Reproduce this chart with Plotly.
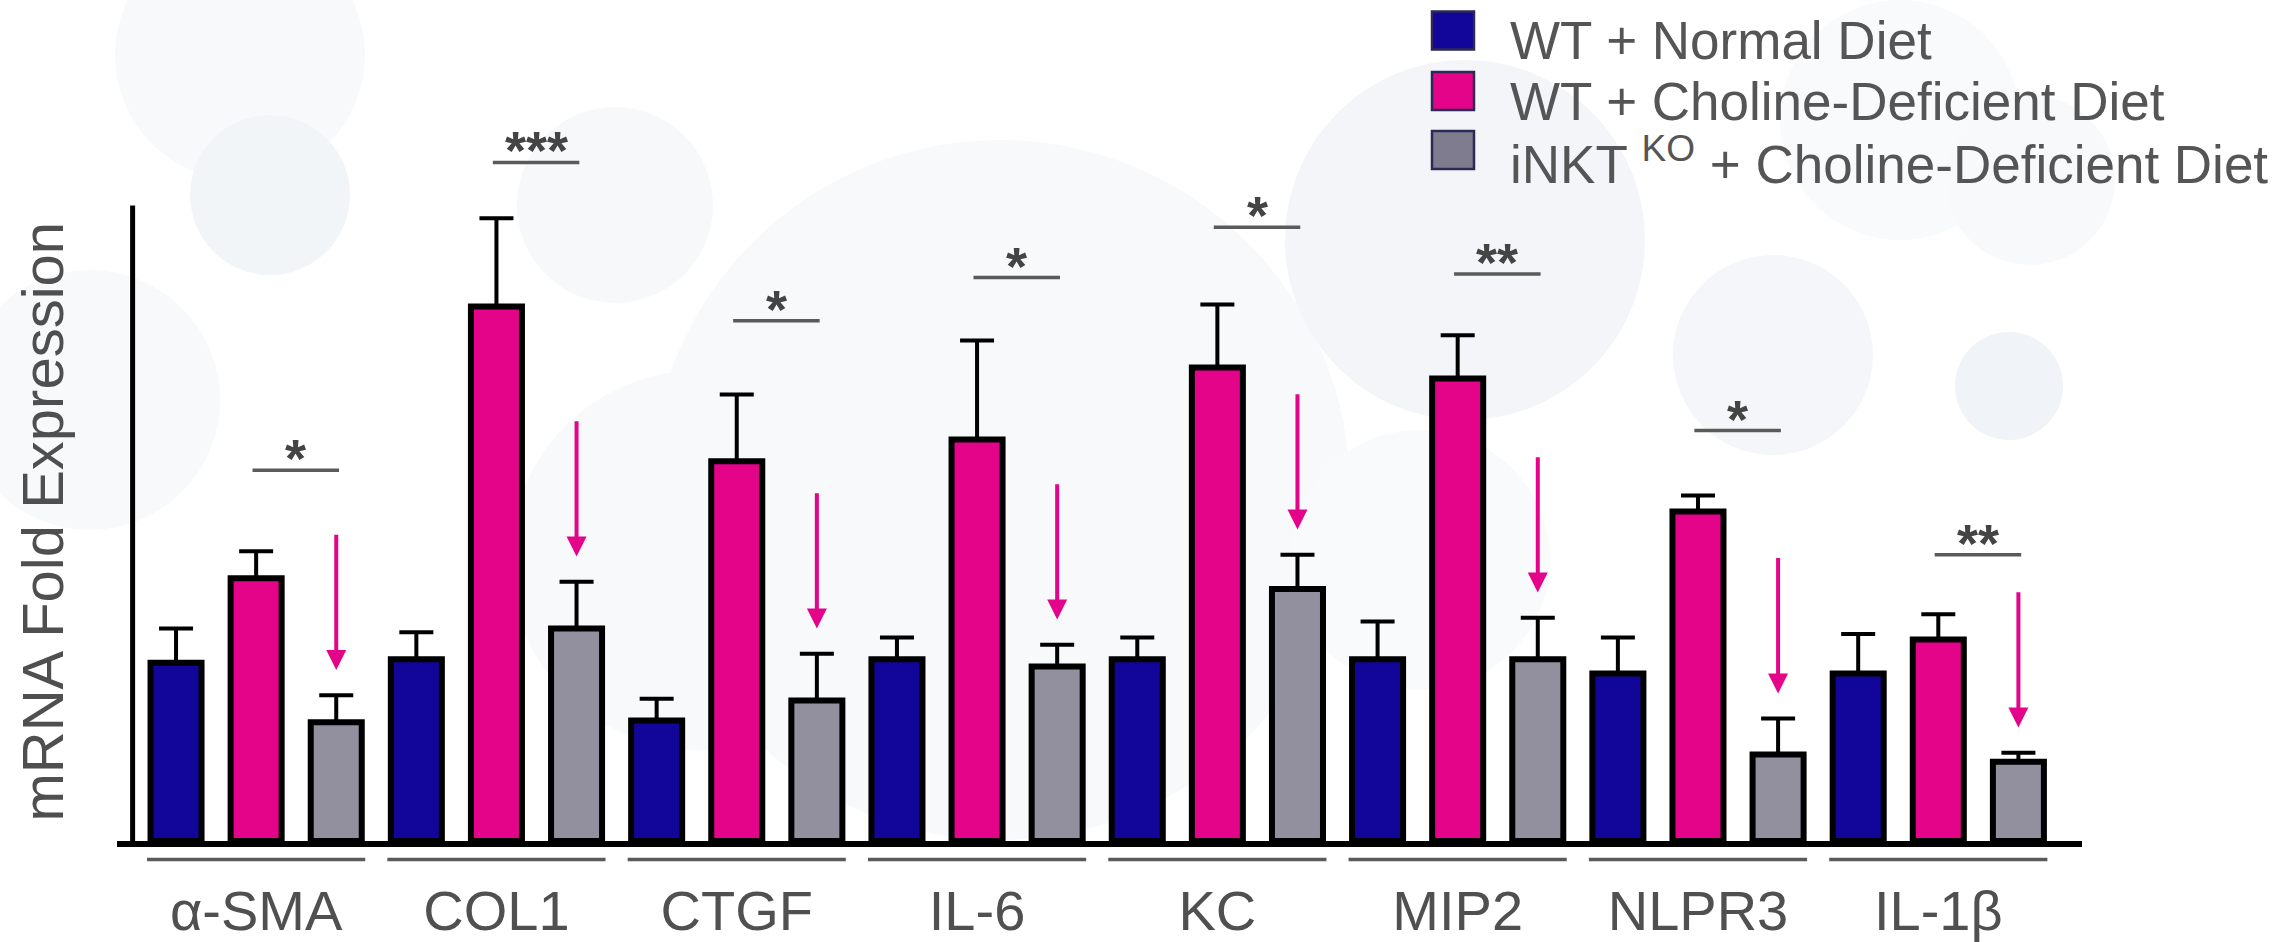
import plotly.graph_objects as go

# ---------------- data ----------------
genes = ["α-SMA", "COL1", "CTGF", "IL-6", "KC", "MIP2", "NLPR3", "IL-1β"]
series_names = ["WT + Normal Diet",
                "WT + Choline-Deficient Diet",
                "iNKT <sup>KO</sup> + Choline-Deficient Diet"]

wt_normal = [0.99, 1.01, 0.67, 1.01, 1.01, 1.01, 0.93, 0.93]
wt_normal_err = [0.19, 0.15, 0.12, 0.12, 0.12, 0.21, 0.20, 0.22]

wt_cdd = [1.46, 2.97, 2.11, 2.23, 2.63, 2.57, 1.83, 1.12]
wt_cdd_err = [0.15, 0.49, 0.37, 0.55, 0.35, 0.24, 0.09, 0.14]

ko_cdd = [0.66, 1.18, 0.78, 0.97, 1.40, 1.01, 0.48, 0.44]
ko_cdd_err = [0.15, 0.26, 0.26, 0.12, 0.19, 0.23, 0.20, 0.05]

significance = ["*", "***", "*", "*", "*", "**", "*", "**"]
sig_level = [2.06, 3.77, 2.89, 3.13, 3.41, 3.15, 2.28, 1.59]

# ---------------- styling ----------------
W, H = 2286, 942
ML, MR, MT, MB = 117, 204, 20, 101
PW, PH = W - ML - MR, H - MT - MB
UNIT = 180.0  # pixels per data unit
X_RANGE = [-0.579, 7.598]
Y_RANGE = [0, PH / UNIT]

C_BLUE = "#110699"
C_PINK = "#e4048a"
C_GRAY = "#928f9e"
C_LEG_GRAY = "#7e7c8e"
TXT = "#555555"
FONT = "Liberation Sans, Arial, sans-serif"


def px_x(px):
    return (px - ML) / PW


def px_y(py):
    return (H - MB - py) / PH


fig = go.Figure()

# faint background bubbles (decoration)
bubbles = [
    (240, 55, 125, "#f7f9fb"), (270, 195, 80, "#f2f5f8"), (90, 400, 130, "#f8f9fb"),
    (615, 205, 98, "#f6f8fa"), (1000, 490, 350, "#f8f9fb"), (1465, 240, 180, "#f3f5f9"),
    (1773, 355, 100, "#f4f6f9"), (2009, 386, 54, "#f0f3f7"), (1420, 560, 130, "#f8fafc"),
    (1900, 120, 120, "#f8fafc"), (700, 560, 190, "#f8f9fb"), (2030, 180, 85, "#f8f9fb"),
]
for cx, cy, r, col in bubbles:
    fig.add_shape(type="circle", xref="paper", yref="paper",
                  x0=px_x(cx - r), x1=px_x(cx + r), y0=px_y(cy + r), y1=px_y(cy - r),
                  fillcolor=col, line=dict(width=0), layer="below")

series = [(wt_normal, wt_normal_err, C_BLUE),
          (wt_cdd, wt_cdd_err, C_PINK),
          (ko_cdd, ko_cdd_err, C_GRAY)]
for (vals, errs, col), name in zip(series, series_names):
    fig.add_trace(go.Bar(
        x=genes, y=vals, name=name, showlegend=False,
        marker=dict(color=col, line=dict(color="black", width=6)),
        error_y=dict(type="data", array=errs, arrayminus=[0] * len(errs), symmetric=False,
                     color="black", thickness=4, width=17),
    ))

# y axis line
fig.add_shape(type="line", xref="x", yref="y", x0=-0.514, x1=-0.514, y0=0, y1=3.53,
              line=dict(color="black", width=5))

# category underlines
for i in range(len(genes)):
    fig.add_shape(type="line", xref="x", yref="paper", x0=i - 0.454, x1=i + 0.454,
                  y0=px_y(859.5), y1=px_y(859.5), line=dict(color="#5a5a5a", width=3.5))

# significance brackets, stars and arrows
for i, (s, lvl) in enumerate(zip(significance, sig_level)):
    fig.add_shape(type="line", xref="x", yref="y", x0=i - 0.015, x1=i + 0.345,
                  y0=lvl, y1=lvl, line=dict(color="#5a5a5a", width=3.5))
    fig.add_annotation(x=i + 0.165, y=lvl, xref="x", yref="y", text=s, showarrow=False,
                       yanchor="bottom", yshift=-20,
                       font=dict(family=FONT, size=54, color="#444444", weight="bold"))
    tip = ko_cdd[i] + ko_cdd_err[i] + 0.14
    fig.add_annotation(x=i + 1 / 3, y=tip, ax=i + 1 / 3, ay=tip + 0.76,
                       xref="x", yref="y", axref="x", ayref="y", text="",
                       showarrow=True, arrowhead=2, arrowsize=1.0, arrowwidth=4,
                       arrowcolor=C_PINK)

# y axis title
fig.add_annotation(xref="paper", yref="paper", x=px_x(41.5), y=px_y(522),
                   text="mRNA Fold Expression", textangle=-90, showarrow=False,
                   xanchor="center", yanchor="middle",
                   font=dict(family=FONT, size=58, color="#4f4f4f"))

# legend (manual, large swatches)
leg_cols = [C_BLUE, C_PINK, C_LEG_GRAY]
leg_rows = [30.5, 91, 150]
for col, cy, name in zip(leg_cols, leg_rows, series_names):
    fig.add_shape(type="rect", xref="paper", yref="paper",
                  x0=px_x(1432), x1=px_x(1474), y0=px_y(cy + 19), y1=px_y(cy - 19),
                  fillcolor=col, line=dict(color="#2c2a55", width=2.5))
    fig.add_annotation(xref="paper", yref="paper", x=px_x(1508), y=px_y(cy + 10),
                       text=name, showarrow=False, xanchor="left", yanchor="middle",
                       font=dict(family=FONT, size=53, color=TXT))

fig.update_layout(
    width=W, height=H,
    margin=dict(l=ML, r=MR, t=MT, b=MB, autoexpand=False),
    paper_bgcolor="white", plot_bgcolor="rgba(0,0,0,0)",
    barmode="group", bargap=0, bargroupgap=0.363,
    showlegend=False,
    font=dict(family=FONT, color=TXT),
    xaxis=dict(range=X_RANGE, showgrid=False, zeroline=False, ticks="",
               showline=True, linecolor="black", linewidth=6, automargin=False,
               tickfont=dict(family=FONT, size=56, color="#505050"),
               ticklabelstandoff=16),
    yaxis=dict(range=Y_RANGE, showgrid=False, zeroline=False, showticklabels=False,
               ticks="", showline=False, automargin=False),
)

fig.write_html("out.html")
